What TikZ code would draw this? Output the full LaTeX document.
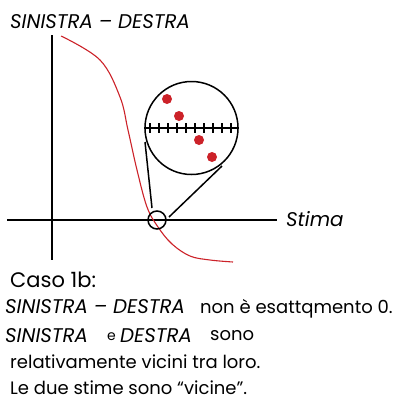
\documentclass[tikz,border=0pt]{standalone}
\usepackage{fontspec}
\setmainfont{Poppins}
\begin{document}
\begin{tikzpicture}[x=1pt,y=-1pt,
  axis/.style={line width=1.6pt,black},
  curve/.style={line width=1.1pt,draw={rgb,255:red,204;green,34;blue,41}},
  ring/.style={line width=1.5pt,black},
  dot/.style={circle,fill={rgb,255:red,204;green,34;blue,41},inner sep=0pt,minimum size=10pt},
  txt/.style={anchor=base west,inner sep=0pt,font=\fontsize{18}{20}\selectfont},
  itxt/.style={txt,font=\fontsize{19.8}{22}\selectfont\itshape}]
\useasboundingbox (0,0) rectangle (394,399);
% axes
\coordinate (vt) at (52,35);
\coordinate (vb) at (52,260);
\coordinate (hl) at (7,220);
\coordinate (hr) at (277,220);
\draw[axis] (vt) -- (vb);
\draw[axis] (hl) -- (hr);
% curve
\draw[curve] plot[smooth,tension=0.6] coordinates {(61,36) (100,60) (120,97) (128,130) (137,170) (147,207) (158,227) (172,244) (190,256) (210,260) (233,262)};
% zoom
\node[circle,draw,ring,minimum size=18pt,inner sep=0pt] (small) at (157,220) {};
\node[circle,draw,ring,minimum size=93pt,inner sep=0pt] (big) at (191.5,128) {};
\draw[ring] (145,142) -- (152,208);
\draw[ring] (222,166) -- (169,217);
\draw[ring] (big.west) -- (big.east);
\foreach \x in {150,159,168,177,186,195,204,213,222,231}
  \draw[line width=1.3pt] (\x,123) -- (\x,133);
\node[dot] (d1) at (167,99) {};
\node[dot] (d2) at (179,116) {};
\node[dot] (d3) at (199,140) {};
\node[dot] (d4) at (212,157) {};
% labels
\node[itxt] (ylab) at (10,28) {SINISTRA – DESTRA};
\node[itxt] (xlab) at (286,226) {Stima};
\node[txt,font=\fontsize{21}{23}\selectfont] (t1) at (10,287) {Caso 1b:};
\node[itxt] (t2a) at (5,313) {SINISTRA – DESTRA};
\node[txt] (t2b) at (200,313) {non è esattqmento 0.};
\node[itxt] (t3a) at (5,342) {SINISTRA};
\node[txt,font=\fontsize{14}{16}\selectfont] (t3b) at (107,340) {e};
\node[itxt] (t3c) at (120,342) {DESTRA};
\node[txt] (t3d) at (210,340) {sono};
\node[txt] (t4) at (10,368) {relativamente vicini tra loro.};
\node[txt] (t5) at (10,394) {Le due stime sono “vicine”.};
\end{tikzpicture}
\end{document}
